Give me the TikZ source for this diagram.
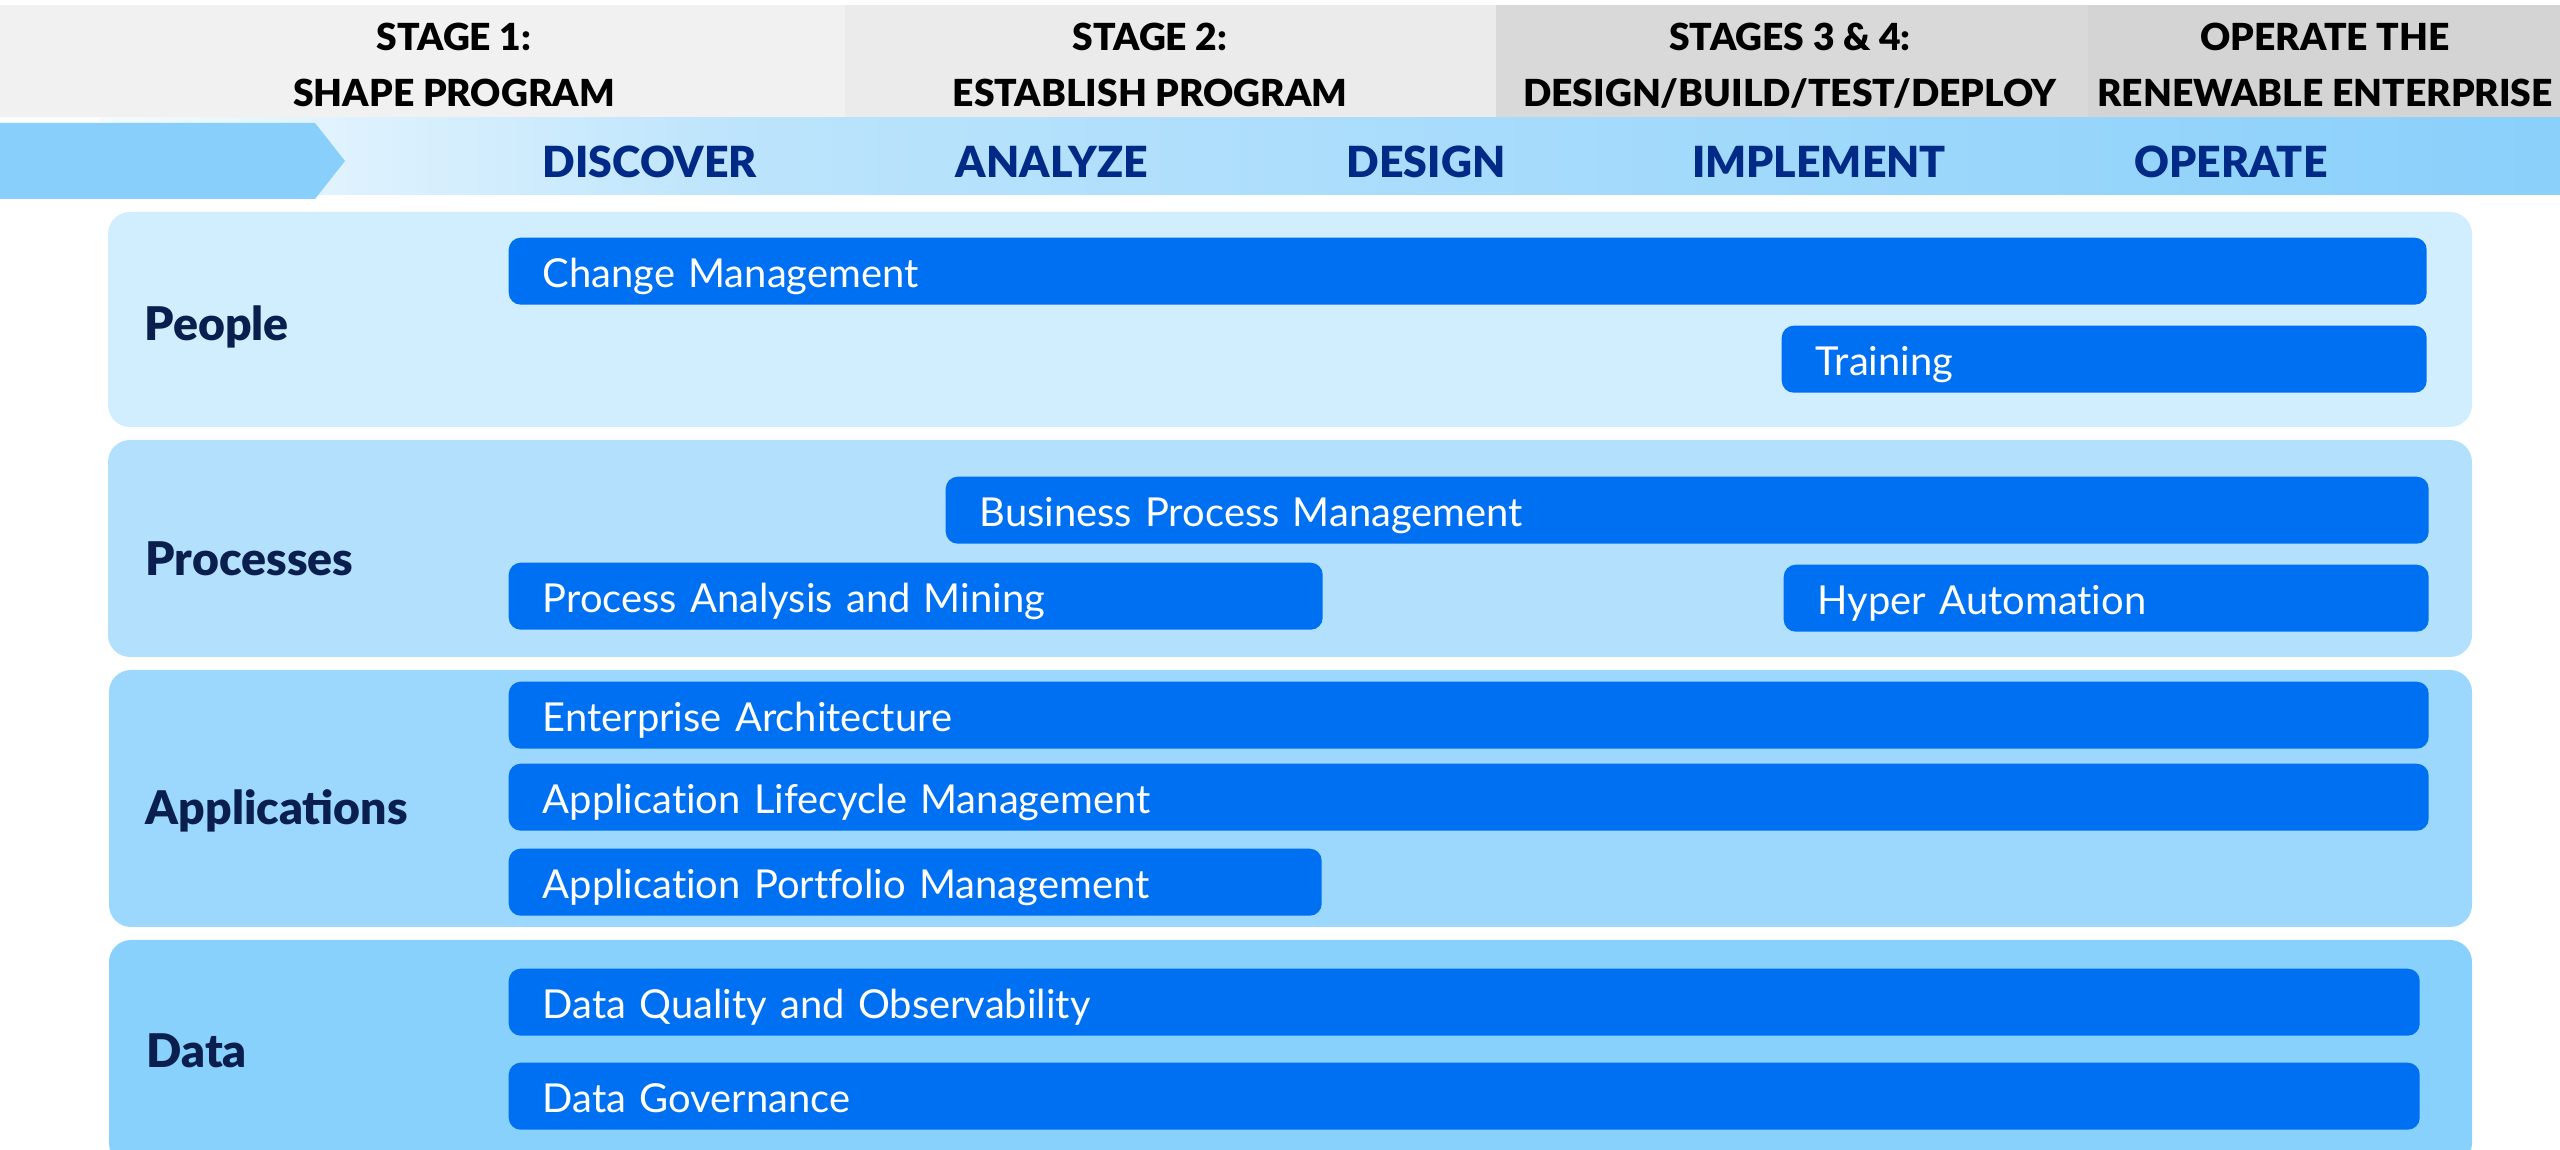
\documentclass[tikz,border=0pt]{standalone}
\usepackage{fontspec}
\setmainfont{Lato}[Ligatures=NoCommon]
\newfontfamily\heavyfont{Lato Black}
\usetikzlibrary{positioning}

\definecolor{barblue}{HTML}{0070F2}
\definecolor{navy}{HTML}{0A1F4E}
\definecolor{phaseblue}{HTML}{002A86}
\definecolor{peoplebg}{HTML}{D1EEFE}
\definecolor{processbg}{HTML}{B3E1FD}
\definecolor{appbg}{HTML}{9CD8FD}
\definecolor{databg}{HTML}{89D1FD}
\definecolor{grayA}{HTML}{F1F1F1}
\definecolor{grayB}{HTML}{EBEBEB}
\definecolor{grayC}{HTML}{D9D9D9}
\definecolor{grayD}{HTML}{D4D4D4}
\definecolor{bandL}{HTML}{F4FBFF}
\definecolor{bandM}{HTML}{BCE4FC}
\definecolor{bandR}{HTML}{8AD0FB}
\definecolor{chevron}{HTML}{88CFFB}

\begin{document}
\begin{tikzpicture}[line cap=round, line join=round,
  stage/.style={font=\heavyfont\fontsize{10.6}{12}\selectfont, anchor=base},
  phase/.style={font=\heavyfont\fontsize{12.2}{14}\selectfont, text=phaseblue, anchor=base},
  lane/.style={rounded corners=0.22cm},
  lanename/.style={font=\heavyfont\fontsize{13.2}{15}\selectfont, text=navy, anchor=base west, inner sep=0pt},
  bar/.style={fill=barblue, rounded corners=0.12cm, text=white, font=\fontsize{11.35}{13}\selectfont,
    anchor=north west, minimum height=0.67cm, inner xsep=0.34cm, inner ysep=0pt,
    text height=0.39cm, text depth=0.07cm, align=left}]

\useasboundingbox (0,0) rectangle (25.6,-11.5);
\clip (0,0) rectangle (25.6,-11.5);

% Stage header
\fill[grayA] (0,-0.05) rectangle (8.45,-1.17);
\fill[grayB] (8.45,-0.05) rectangle (14.96,-1.17);
\fill[grayC] (14.96,-0.05) rectangle (20.88,-1.17);
\fill[grayD] (20.88,-0.05) rectangle (25.6,-1.17);

\node[stage] (s1a) at (4.54,-0.51) {STAGE 1:};
\node[stage] (s1b) at (4.54,-1.07) {SHAPE PROGRAM};
\node[stage] (s2a) at (11.50,-0.51) {STAGE 2:};
\node[stage] (s2b) at (11.50,-1.07) {ESTABLISH PROGRAM};
\node[stage] (s3a) at (17.90,-0.51) {STAGES 3 \& 4:};
\node[stage] (s3b) at (17.90,-1.07) {DESIGN/BUILD/TEST/DEPLOY};
\node[stage] (s4a) at (23.25,-0.51) {OPERATE THE};
\node[stage] (s4b) at (23.25,-1.07) {RENEWABLE ENTERPRISE};

% Phase band
\shade[left color=bandL, right color=bandM] (1.0,-1.18) rectangle (7.4,-1.95);
\shade[left color=bandM, right color=bandR] (7.4,-1.18) rectangle (25.6,-1.95);
\fill[chevron] (0,-1.23) -- (3.15,-1.23) -- (3.45,-1.61) -- (3.15,-1.99) -- (0,-1.99) -- cycle;

\node[phase] (discover) at (6.50,-1.775) {DISCOVER};
\node[phase] (analyze) at (10.52,-1.775) {ANALYZE};
\node[phase] (design) at (14.26,-1.775) {DESIGN};
\node[phase] (implement) at (18.19,-1.775) {IMPLEMENT};
\node[phase] (operate) at (22.31,-1.775) {OPERATE};

% Lanes
\fill[lane, peoplebg] (1.08,-2.12) rectangle (24.72,-4.27);
\fill[lane, processbg] (1.08,-4.40) rectangle (24.72,-6.57);
\fill[lane, appbg] (1.09,-6.70) rectangle (24.72,-9.27);
\fill[lane, databg] (1.09,-9.40) rectangle (24.72,-11.65);

\node[lanename] (people) at (1.44,-3.405) {People};
\node[lanename] (processes) at (1.45,-5.755) {Processes};
\node[lanename] (applications) at (1.45,-8.245) {Applications};
\node[lanename] (data) at (1.46,-10.675) {Data};

% Bars
\node[bar, text width=18.50cm] (change) at (5.08,-2.37) {Change Management};
\node[bar, text width=5.77cm] (training) at (17.81,-3.25) {Training};
\node[bar, text width=14.15cm] (bpm) at (9.45,-4.76) {Business Process Management};
\node[bar, text width=7.46cm] (mining) at (5.08,-5.62) {Process Analysis and Mining};
\node[bar, text width=5.77cm] (hyper) at (17.83,-5.64) {Hyper Automation};
\node[bar, text width=18.52cm] (entarch) at (5.08,-6.81) {Enterprise Architecture};
\node[bar, text width=18.52cm] (alm) at (5.08,-7.63) {Application Lifecycle Management};
\node[bar, text width=7.45cm] (apm) at (5.08,-8.48) {Application Portfolio Management};
\node[bar, text width=18.43cm] (dqo) at (5.08,-9.68) {Data Quality and Observability};
\node[bar, text width=18.43cm] (governance) at (5.08,-10.62) {Data Governance};

\end{tikzpicture}
\end{document}
